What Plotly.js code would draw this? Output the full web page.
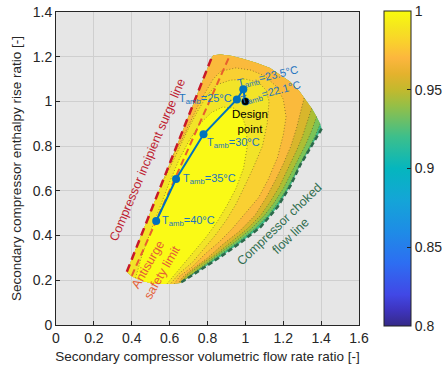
<!DOCTYPE html>
<html><head><meta charset="utf-8">
<script src="https://cdn.plot.ly/plotly-3.0.1.min.js"></script>
<style>html,body{margin:0;padding:0;background:#fff;}#chart{width:448px;height:371px;}</style>
</head><body><div id="chart"></div>
<script>
// ---- Map boundary ----
const bottomX=[0.656,0.60,0.52,0.45,0.40,0.374];
const bottomY=[0.188,0.183,0.185,0.198,0.218,0.238];
const surgeX=[0.374,0.824];
const surgeY=[0.238,1.20];
const topX=[0.824,0.831,0.87,0.93,0.99,1.06,1.13,1.19,1.236,1.285,1.324,1.355,1.376,1.395,1.403];
const topY=[1.20,1.207,1.21,1.203,1.19,1.172,1.15,1.117,1.088,1.045,0.999,0.963,0.932,0.9,0.878];
const chokeX=[1.403,1.37,1.33,1.29,1.24,1.17,1.08,0.972,0.867,0.761,0.656];
const chokeY=[0.878,0.83,0.77,0.716,0.626,0.528,0.438,0.367,0.304,0.246,0.188];
const antisurgeX=[0.40,0.915];
const antisurgeY=[0.22,1.20];

// ---- Efficiency contour lines (outer -> inner) ----
const contourLevels=[0.92,0.93,0.94,0.95,0.96,0.97,0.98];
const c1X=[1.395,1.37,1.34,1.31,1.27,1.22,1.17,1.12,1.05,0.96,0.87,0.78,0.71,0.685];
const c1Y=[0.9,0.848,0.80,0.755,0.69,0.61,0.545,0.49,0.43,0.37,0.315,0.262,0.222,0.204];
const c2X=[1.376,1.35,1.32,1.29,1.25,1.20,1.15,1.10,1.03,0.95,0.87,0.79,0.72,0.68];
const c2Y=[0.932,0.87,0.81,0.76,0.69,0.61,0.545,0.49,0.43,0.375,0.325,0.275,0.23,0.203];
const c3X=[1.35,1.325,1.30,1.27,1.225,1.18,1.13,1.08,1.01,0.93,0.85,0.755,0.69,0.665];
const c3Y=[0.969,0.90,0.84,0.78,0.70,0.62,0.55,0.49,0.43,0.375,0.32,0.265,0.222,0.196];
const c4X=[1.31,1.29,1.27,1.24,1.20,1.16,1.11,1.05,0.97,0.88,0.80,0.72,0.67,0.645];
const c4Y=[1.0155,0.95,0.88,0.80,0.72,0.65,0.57,0.49,0.42,0.36,0.30,0.25,0.215,0.187];
const c5X=[0.614,0.665,0.71,0.755,0.795,0.83,0.87,0.95,1.03,1.10,1.16,1.20,1.215,1.20,1.17,1.12,1.07,1.00,0.93,0.86,0.79,0.72,0.655,0.625];
const c5Y=[0.75,0.83,0.91,0.99,1.05,1.10,1.135,1.15,1.14,1.115,1.07,1.01,0.93,0.85,0.75,0.65,0.57,0.50,0.43,0.37,0.32,0.26,0.22,0.185];
const c6X=[0.553,0.60,0.65,0.70,0.75,0.80,0.85,0.92,1.00,1.07,1.11,1.125,1.115,1.09,1.04,0.99,0.95,0.90,0.84,0.78,0.72,0.65,0.605];
const c6Y=[0.62,0.70,0.79,0.88,0.96,1.03,1.075,1.095,1.10,1.085,1.05,1.0,0.90,0.80,0.70,0.61,0.54,0.47,0.40,0.34,0.28,0.23,0.184];
const c7X=[0.42,0.45,0.50,0.55,0.60,0.65,0.70,0.76,0.82,0.88,0.94,0.98,1.005,1.01,0.99,0.95,0.90,0.85,0.79,0.73,0.67,0.62,0.585];
const c7Y=[0.210,0.30,0.42,0.53,0.64,0.74,0.82,0.90,0.95,0.975,0.97,0.94,0.88,0.80,0.70,0.61,0.53,0.46,0.39,0.33,0.27,0.22,0.183];

// ---- Operating line ----
const tambLabels=['40','35','30','25','23.5','22.1'];
const tambX=[0.529,0.634,0.779,0.955,0.989,1.0];
const tambY=[0.465,0.653,0.853,1.009,1.054,1.0];
const designX=[1.0];
const designY=[1.0];

// ---- Colour bar ----
const cbTicks=[0.8,0.85,0.9,0.95,1];
const cbTickText=['0.8','0.85','0.9','0.95','1'];

// styles
const bandColors=['rgb(62,190,135)','rgb(122,195,88)','rgb(172,190,52)','rgb(216,182,44)','rgb(250,186,60)','rgb(249,208,50)','rgb(242,228,40)','rgb(250,250,22)'];
const colorscale=[[0,'rgb(53,42,135)'],[0.05,'rgb(62,52,190)'],[0.1,'rgb(65,72,230)'],[0.2,'rgb(45,110,242)'],[0.3,'rgb(30,140,230)'],[0.4,'rgb(20,165,215)'],[0.5,'rgb(5,182,190)'],[0.6,'rgb(60,191,140)'],[0.7,'rgb(150,191,70)'],[0.75,'rgb(195,185,45)'],[0.8,'rgb(228,178,45)'],[0.85,'rgb(252,182,62)'],[0.9,'rgb(250,208,45)'],[0.95,'rgb(245,230,30)'],[1,'rgb(249,251,14)']];

// build boundary loop
const BX=[].concat(bottomX, surgeX.slice(1), topX.slice(1), chokeX.slice(1,-1));
const BY=[].concat(bottomY, surgeY.slice(1), topY.slice(1), chokeY.slice(1,-1));
const n=BX.length;
const cum=[0];
for(let i=1;i<=n;i++){const a=i-1,b=i%n;cum.push(cum[i-1]+Math.hypot(BX[b]-BX[a],BY[b]-BY[a]));}
const Ltot=cum[n];
function project(px,py){let best=1e9,bp=0;for(let i=0;i<n;i++){const j=(i+1)%n;const dx=BX[j]-BX[i],dy=BY[j]-BY[i];const l2=dx*dx+dy*dy;let t=((px-BX[i])*dx+(py-BY[i])*dy)/l2;t=Math.max(0,Math.min(1,t));const qx=BX[i]+t*dx,qy=BY[i]+t*dy;const d=Math.hypot(px-qx,py-qy);if(d<best){best=d;bp=cum[i]+t*(cum[i+1]-cum[i]);}}return bp;}
function highPoly(cx,cy){
  const ps=project(cx[0],cy[0]), pe=project(cx[cx.length-1],cy[cy.length-1]);
  const span=((ps-pe)%Ltot+Ltot)%Ltot;
  const list=[];
  for(let k=0;k<n;k++){const d=((cum[k]-pe)%Ltot+Ltot)%Ltot;if(d>1e-9&&d<span-1e-9)list.push([d,k]);}
  list.sort((a,b)=>a[0]-b[0]);
  const X=cx.slice(),Y=cy.slice();
  list.forEach(e=>{X.push(BX[e[1]]);Y.push(BY[e[1]]);});
  X.push(cx[0]);Y.push(cy[0]);
  return [X,Y];
}
const curves=[[c1X,c1Y],[c2X,c2Y],[c3X,c3Y],[c4X,c4Y],[c5X,c5Y],[c6X,c6Y],[c7X,c7Y]];
const traces=[];
traces.push({x:BX.concat([BX[0]]),y:BY.concat([BY[0]]),mode:'lines',fill:'toself',fillcolor:bandColors[0],line:{width:0},hoverinfo:'skip'});
curves.forEach((c,i)=>{const p=highPoly(c[0],c[1]);traces.push({x:p[0],y:p[1],mode:'lines',fill:'toself',fillcolor:bandColors[i+1],line:{width:0},hoverinfo:'skip'});});
curves.forEach(c=>{traces.push({x:c[0],y:c[1],mode:'lines',line:{color:'rgba(60,55,30,0.7)',width:0.7,dash:'1px,2px'},hoverinfo:'skip'});});
traces.push({x:chokeX,y:chokeY,mode:'lines',line:{color:'rgb(45,105,75)',width:2.5,dash:'5px,3px'},hoverinfo:'skip'});
traces.push({x:antisurgeX,y:antisurgeY,mode:'lines',line:{color:'rgb(232,95,45)',width:2,dash:'7px,4px'},hoverinfo:'skip'});
traces.push({x:surgeX,y:surgeY,mode:'lines',line:{color:'rgb(200,25,40)',width:2.5,dash:'8px,5px'},hoverinfo:'skip'});
traces.push({x:tambX,y:tambY,mode:'lines+markers',line:{color:'rgb(0,114,189)',width:2},marker:{color:'rgb(0,114,189)',size:8},hoverinfo:'skip'});
traces.push({x:designX,y:designY,mode:'markers',marker:{color:'black',size:7},hoverinfo:'skip'});
traces.push({x:[null],y:[null],mode:'markers',marker:{color:[0.9],cmin:0.8,cmax:1,colorscale:colorscale,showscale:true,
  colorbar:{x:1.0825,xanchor:'left',xpad:0,y:0.5,yanchor:'middle',len:1.005,ypad:0,thickness:27,outlinewidth:1,outlinecolor:'#222',
  ticks:'inside',ticklen:4,tickcolor:'#222',tickvals:cbTicks,ticktext:cbTickText,tickfont:{size:14,color:'#262626'}}},hoverinfo:'skip'});

const blue='rgb(30,115,190)';
const anns=[];
const lab=(i)=>'T<sub>amb</sub>='+tambLabels[i]+'°C';
anns.push({x:0.55,y:0.465,text:lab(0),xanchor:'left',yanchor:'middle',showarrow:false,font:{size:11,color:blue}});
anns.push({x:0.66,y:0.655,text:lab(1),xanchor:'left',yanchor:'middle',showarrow:false,font:{size:11,color:blue}});
anns.push({x:0.785,y:0.815,text:lab(2),xanchor:'left',yanchor:'middle',showarrow:false,font:{size:11,color:blue}});
anns.push({x:0.94,y:1.009,text:lab(3),xanchor:'right',yanchor:'middle',showarrow:false,font:{size:11,color:blue}});
anns.push({x:1.121,y:1.11,text:lab(4),xanchor:'center',yanchor:'middle',textangle:-13,showarrow:false,font:{size:11,color:blue}});
anns.push({x:1.134,y:1.036,text:lab(5),xanchor:'center',yanchor:'middle',textangle:-15,showarrow:false,font:{size:11,color:blue}});
anns.push({x:1.025,y:0.912,text:'Design<br>point',xanchor:'center',yanchor:'middle',showarrow:false,font:{size:11.5,color:'black'}});
anns.push({x:0.483,y:0.738,text:'Compressor incipient surge line',textangle:-67,xanchor:'center',yanchor:'middle',showarrow:false,font:{size:12.5,color:'rgb(190,30,50)'}});
anns.push({x:0.524,y:0.255,text:'Antisurge<br>safety limit',textangle:-60,xanchor:'center',yanchor:'middle',showarrow:false,font:{size:12.5,color:'rgb(228,95,55)'}});
anns.push({x:1.21,y:0.425,text:'Compressor choked<br>flow line',textangle:-44,xanchor:'center',yanchor:'middle',showarrow:false,font:{size:12.5,color:'rgb(50,110,80)'}});

const axisCommon={showline:true,mirror:true,linecolor:'#262626',linewidth:1,ticks:'inside',ticklen:4,tickcolor:'#262626',
  gridcolor:'#cfcfcf',gridwidth:1,zeroline:false,automargin:false,tickfont:{size:14,color:'#262626'}};
const layout={width:448,height:371,margin:{l:56,r:89,t:12,b:46,autoexpand:false},showlegend:false,
  paper_bgcolor:'white',plot_bgcolor:'#e6e6e6',font:{family:'Arial, "Liberation Sans", sans-serif',color:'#262626'},
  xaxis:Object.assign({},axisCommon,{range:[0,1.6],dtick:0.2,tick0:0,title:{text:'Secondary compressor volumetric flow rate ratio [-]',font:{size:13.5},standoff:6}}),
  yaxis:Object.assign({},axisCommon,{range:[0,1.4],dtick:0.2,tick0:0,title:{text:'Secondary compressor enthalpy rise ratio [-]',font:{size:13.5},standoff:8}}),
  annotations:anns};
Plotly.newPlot('chart',traces,layout,{staticPlot:true,displayModeBar:false});
</script></body></html>
